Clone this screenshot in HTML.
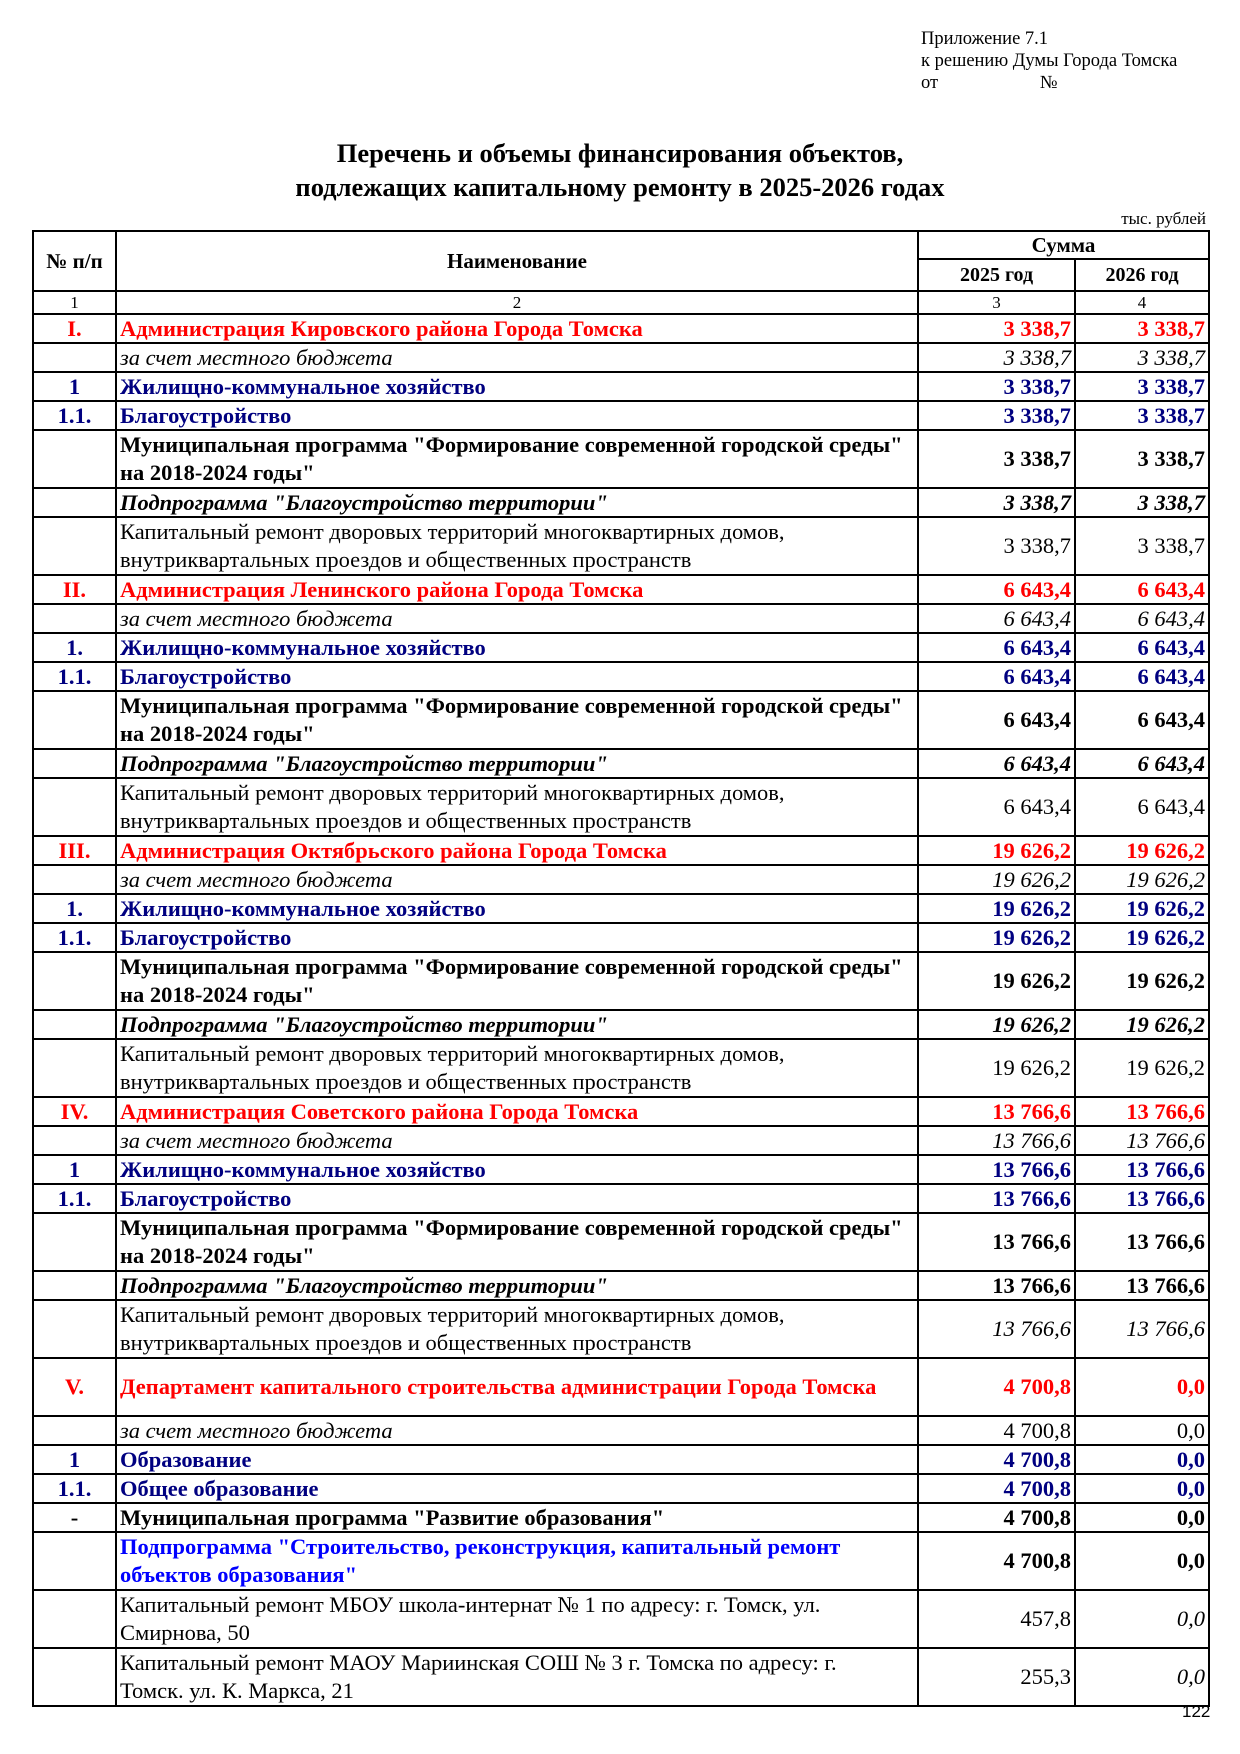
<!DOCTYPE html>
<html><head><meta charset="utf-8">
<style>
body{margin:0;width:1240px;height:1754px;background:#fff;position:relative;font-family:"Liberation Serif","DejaVu Serif",serif;color:#000}
.hdr{position:absolute;left:921px;top:28px;font-size:18.5px;line-height:22px}
.title{position:absolute;left:0;width:1240px;top:136px;text-align:center;font-weight:bold;font-size:26.5px;line-height:34px}
.units{position:absolute;right:34px;top:209px;font-size:17px}
table{position:absolute;left:32px;top:230px;border-collapse:collapse;table-layout:fixed;width:1176px}
td{border:2px solid #000;padding:0 3px;font-size:22.5px;line-height:26px;overflow:hidden;white-space:nowrap}
td.c{text-align:center}
td.r{text-align:right}
tr.s td{height:27px}
tr.d td{height:56px;line-height:28px}
.red{color:#f00;font-weight:bold}
.nb{color:#000080;font-weight:bold}
.bb{color:#00f;font-weight:bold}
.b{font-weight:bold}
.i{font-style:italic}
.bi{font-weight:bold;font-style:italic}
.pg{position:absolute;left:1182px;top:1702px;font-family:"Liberation Sans",sans-serif;font-size:17px}
</style></head><body>
<div class="hdr">Приложение 7.1<br>к решению Думы Города Томска<br>от &nbsp;&nbsp;&nbsp;&nbsp;&nbsp;&nbsp;&nbsp;&nbsp;&nbsp;&nbsp;&nbsp;&nbsp;&nbsp;&nbsp;&nbsp;&nbsp;&nbsp;&nbsp;&nbsp;&nbsp;&nbsp;№</div>
<div class="title">Перечень и объемы финансирования объектов,<br>подлежащих капитальному ремонту в 2025-2026 годах</div>
<div class="units">тыс. рублей</div>
<table>
<colgroup><col style="width:83px"><col style="width:802px"><col style="width:157px"><col style="width:134px"></colgroup>
<tr><td rowspan="2" class="c b" style="height:58px;font-size:21px">№ п/п</td><td rowspan="2" class="c b" style="font-size:21px">Наименование</td><td colspan="2" class="c b" style="height:25px;font-size:21px">Сумма</td></tr>
<tr><td class="c b" style="height:29px;font-size:20px">2025 год</td><td class="c b" style="font-size:20px">2026 год</td></tr>
<tr><td class="c" style="height:21px;font-size:17px;line-height:20px">1</td><td class="c" style="font-size:17px;line-height:20px">2</td><td class="c" style="font-size:17px;line-height:20px">3</td><td class="c" style="font-size:17px;line-height:20px">4</td></tr>

<tr class="s"><td class="c red">I.</td><td class="red">Администрация Кировского района Города Томска</td><td class="r red">3 338,7</td><td class="r red">3 338,7</td></tr>
<tr class="s"><td></td><td class="i">за счет местного бюджета</td><td class="r i">3 338,7</td><td class="r i">3 338,7</td></tr>
<tr class="s"><td class="c nb">1</td><td class="nb">Жилищно-коммунальное хозяйство</td><td class="r nb">3 338,7</td><td class="r nb">3 338,7</td></tr>
<tr class="s"><td class="c nb">1.1.</td><td class="nb">Благоустройство</td><td class="r nb">3 338,7</td><td class="r nb">3 338,7</td></tr>
<tr class="d"><td></td><td class="b">Муниципальная программа "Формирование современной городской среды"<br>на 2018-2024 годы"</td><td class="r b">3 338,7</td><td class="r b">3 338,7</td></tr>
<tr class="s"><td></td><td class="bi">Подпрограмма "Благоустройство территории"</td><td class="r bi">3 338,7</td><td class="r bi">3 338,7</td></tr>
<tr class="d"><td></td><td>Капитальный ремонт дворовых территорий многоквартирных домов,<br>внутриквартальных проездов и общественных пространств</td><td class="r">3 338,7</td><td class="r">3 338,7</td></tr>

<tr class="s"><td class="c red">II.</td><td class="red">Администрация Ленинского района Города Томска</td><td class="r red">6 643,4</td><td class="r red">6 643,4</td></tr>
<tr class="s"><td></td><td class="i">за счет местного бюджета</td><td class="r i">6 643,4</td><td class="r i">6 643,4</td></tr>
<tr class="s"><td class="c nb">1.</td><td class="nb">Жилищно-коммунальное хозяйство</td><td class="r nb">6 643,4</td><td class="r nb">6 643,4</td></tr>
<tr class="s"><td class="c nb">1.1.</td><td class="nb">Благоустройство</td><td class="r nb">6 643,4</td><td class="r nb">6 643,4</td></tr>
<tr class="d"><td></td><td class="b">Муниципальная программа "Формирование современной городской среды"<br>на 2018-2024 годы"</td><td class="r b">6 643,4</td><td class="r b">6 643,4</td></tr>
<tr class="s"><td></td><td class="bi">Подпрограмма "Благоустройство территории"</td><td class="r bi">6 643,4</td><td class="r bi">6 643,4</td></tr>
<tr class="d"><td></td><td>Капитальный ремонт дворовых территорий многоквартирных домов,<br>внутриквартальных проездов и общественных пространств</td><td class="r">6 643,4</td><td class="r">6 643,4</td></tr>

<tr class="s"><td class="c red">III.</td><td class="red">Администрация Октябрьского района Города Томска</td><td class="r red">19 626,2</td><td class="r red">19 626,2</td></tr>
<tr class="s"><td></td><td class="i">за счет местного бюджета</td><td class="r i">19 626,2</td><td class="r i">19 626,2</td></tr>
<tr class="s"><td class="c nb">1.</td><td class="nb">Жилищно-коммунальное хозяйство</td><td class="r nb">19 626,2</td><td class="r nb">19 626,2</td></tr>
<tr class="s"><td class="c nb">1.1.</td><td class="nb">Благоустройство</td><td class="r nb">19 626,2</td><td class="r nb">19 626,2</td></tr>
<tr class="d"><td></td><td class="b">Муниципальная программа "Формирование современной городской среды"<br>на 2018-2024 годы"</td><td class="r b">19 626,2</td><td class="r b">19 626,2</td></tr>
<tr class="s"><td></td><td class="bi">Подпрограмма "Благоустройство территории"</td><td class="r bi">19 626,2</td><td class="r bi">19 626,2</td></tr>
<tr class="d"><td></td><td>Капитальный ремонт дворовых территорий многоквартирных домов,<br>внутриквартальных проездов и общественных пространств</td><td class="r">19 626,2</td><td class="r">19 626,2</td></tr>

<tr class="s"><td class="c red">IV.</td><td class="red">Администрация Советского района Города Томска</td><td class="r red">13 766,6</td><td class="r red">13 766,6</td></tr>
<tr class="s"><td></td><td class="i">за счет местного бюджета</td><td class="r i">13 766,6</td><td class="r i">13 766,6</td></tr>
<tr class="s"><td class="c nb">1</td><td class="nb">Жилищно-коммунальное хозяйство</td><td class="r nb">13 766,6</td><td class="r nb">13 766,6</td></tr>
<tr class="s"><td class="c nb">1.1.</td><td class="nb">Благоустройство</td><td class="r nb">13 766,6</td><td class="r nb">13 766,6</td></tr>
<tr class="d"><td></td><td class="b">Муниципальная программа "Формирование современной городской среды"<br>на 2018-2024 годы"</td><td class="r b">13 766,6</td><td class="r b">13 766,6</td></tr>
<tr class="s"><td></td><td class="bi">Подпрограмма "Благоустройство территории"</td><td class="r b">13 766,6</td><td class="r b">13 766,6</td></tr>
<tr class="d"><td></td><td>Капитальный ремонт дворовых территорий многоквартирных домов,<br>внутриквартальных проездов и общественных пространств</td><td class="r i">13 766,6</td><td class="r i">13 766,6</td></tr>

<tr class="d"><td class="c red">V.</td><td class="red">Департамент капитального строительства администрации Города Томска</td><td class="r red">4 700,8</td><td class="r red">0,0</td></tr>
<tr class="s"><td></td><td class="i">за счет местного бюджета</td><td class="r">4 700,8</td><td class="r">0,0</td></tr>
<tr class="s"><td class="c nb">1</td><td class="nb">Образование</td><td class="r nb">4 700,8</td><td class="r nb">0,0</td></tr>
<tr class="s"><td class="c nb">1.1.</td><td class="nb">Общее образование</td><td class="r nb">4 700,8</td><td class="r nb">0,0</td></tr>
<tr class="s"><td class="c b">-</td><td class="b">Муниципальная программа "Развитие образования"</td><td class="r b">4 700,8</td><td class="r b">0,0</td></tr>
<tr class="d"><td></td><td class="bb">Подпрограмма "Строительство, реконструкция, капитальный ремонт<br>объектов образования"</td><td class="r b">4 700,8</td><td class="r b">0,0</td></tr>
<tr class="d"><td></td><td>Капитальный ремонт МБОУ школа-интернат № 1 по адресу: г. Томск, ул.<br>Смирнова, 50</td><td class="r">457,8</td><td class="r i">0,0</td></tr>
<tr class="d"><td></td><td>Капитальный ремонт МАОУ Мариинская СОШ № 3 г. Томска по адресу: г.<br>Томск. ул. К. Маркса, 21</td><td class="r">255,3</td><td class="r i">0,0</td></tr>
</table>
<div class="pg">122</div>
</body></html>
